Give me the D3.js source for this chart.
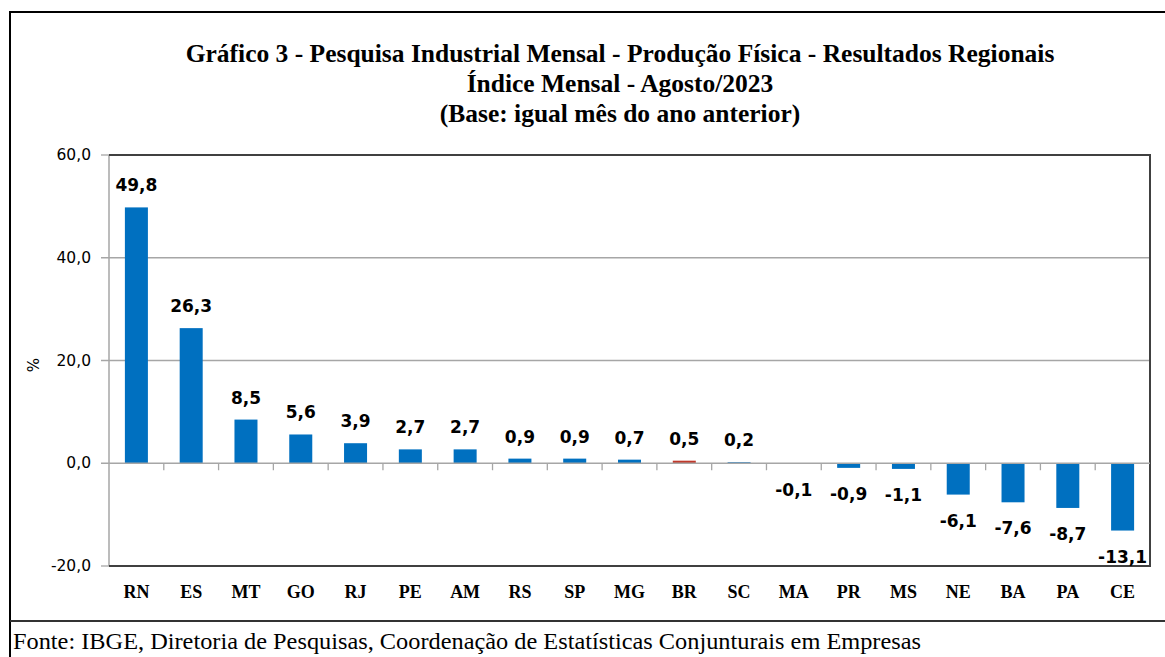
<!DOCTYPE html>
<html>
<head>
<meta charset="utf-8">
<script src="https://cdn.jsdelivr.net/npm/d3@7/dist/d3.min.js"></script>
<style>
  html, body { margin: 0; padding: 0; background: #fff; }
  svg { display: block; }
</style>
</head>
<body>
<svg id="chart"></svg>
<script>
// data
const regions = ['RN', 'ES', 'MT', 'GO', 'RJ', 'PE', 'AM', 'RS', 'SP', 'MG', 'BR', 'SC', 'MA', 'PR', 'MS', 'NE', 'BA', 'PA', 'CE'];
const values = [49.8, 26.3, 8.5, 5.6, 3.9, 2.7, 2.7, 0.9, 0.9, 0.7, 0.5, 0.2, -0.1, -0.9, -1.1, -6.1, -7.6, -8.7, -13.1];
const yTicks = [-20, 0, 20, 40, 60];
const titleLines = [
  'Gráfico 3 - Pesquisa Industrial Mensal - Produção Física - Resultados Regionais',
  'Índice Mensal - Agosto/2023',
  '(Base: igual mês do ano anterior)'
];
const source = 'Fonte: IBGE, Diretoria de Pesquisas, Coordenação de Estatísticas Conjunturais em Empresas';

const W = 1165, H = 657;
const plot = { left: 109, right: 1150, top: 155, bottom: 566 };
const serif = '"Liberation Serif", "DejaVu Serif", serif';
const sans = '"DejaVu Sans", Verdana, sans-serif';

const svg = d3.select('#chart').attr('width', W).attr('height', H);

const fmt = (v) => d3.format('.1f')(v).replace('.', ',').replace('−', '-');

// outer frame
svg.append('path')
  .attr('d', `M1170,12 H10 V${H + 5}`)
  .attr('fill', 'none')
  .attr('stroke', '#000')
  .attr('stroke-width', 2);
svg.append('line')
  .attr('x1', 10).attr('x2', W + 5)
  .attr('y1', 621).attr('y2', 621)
  .attr('stroke', '#333')
  .attr('stroke-width', 2);

// title
const title = svg.append('text')
  .attr('text-anchor', 'middle')
  .attr('font-family', serif)
  .attr('font-weight', 'bold')
  .attr('font-size', 25.5)
  .attr('fill', '#000');
titleLines.forEach((t, i) => {
  title.append('tspan').attr('x', 620).attr('y', 62 + i * 30).text(t);
});

const x = d3.scaleBand().domain(regions).range([plot.left, plot.right]).padding(0);
const y = d3.scaleLinear().domain([-20, 60]).range([plot.bottom, plot.top]);
const barW = x.bandwidth() * 0.42;

// gridlines + y ticks
const yAxis = svg.append('g').attr('class', 'y-axis');
yAxis.selectAll('line.grid')
  .data(yTicks.filter((d) => d !== -20 && d !== 60 && d !== 0))
  .enter()
  .append('line')
  .attr('class', 'grid')
  .attr('x1', plot.left - 8)
  .attr('x2', plot.right)
  .attr('y1', (d) => y(d))
  .attr('y2', (d) => y(d))
  .attr('stroke', '#a6a6a6')
  .attr('stroke-width', 1.3);

yAxis.selectAll('text')
  .data(yTicks)
  .enter()
  .append('text')
  .attr('x', plot.left - 18)
  .attr('y', (d) => y(d) + 5)
  .attr('text-anchor', 'end')
  .attr('font-family', sans)
  .attr('font-size', 15.5)
  .attr('fill', '#000')
  .text(fmt);

// short tick marks for the frame lines
[60, -20].forEach((d) => {
  svg.append('line')
    .attr('x1', plot.left - 8).attr('x2', plot.left)
    .attr('y1', y(d)).attr('y2', y(d))
    .attr('stroke', '#a6a6a6').attr('stroke-width', 1.3);
});

// left axis
svg.append('line')
  .attr('x1', plot.left).attr('x2', plot.left)
  .attr('y1', plot.top).attr('y2', plot.bottom)
  .attr('stroke', '#a6a6a6').attr('stroke-width', 1.5);

// top, right, bottom frame
svg.append('path')
  .attr('d', `M${plot.left},${plot.top} H${plot.right} V${plot.bottom} H${plot.left}`)
  .attr('fill', 'none')
  .attr('stroke', '#404040')
  .attr('stroke-width', 2);

// y label
svg.append('text')
  .attr('transform', 'translate(39,365) rotate(-90)')
  .attr('text-anchor', 'middle')
  .attr('font-family', sans)
  .attr('font-size', 15)
  .text('%');

// bars
svg.append('g').attr('class', 'bars')
  .selectAll('rect')
  .data(regions)
  .enter()
  .append('rect')
  .attr('x', (d) => x(d) + (x.bandwidth() - barW) / 2)
  .attr('width', barW)
  .attr('y', (d, i) => y(Math.max(0, values[i])))
  .attr('height', (d, i) => Math.abs(y(values[i]) - y(0)))
  .attr('fill', (d) => (d === 'BR' ? '#c0392b' : '#0070c0'));

// zero line with category ticks
const y0 = y(0);
svg.append('line')
  .attr('x1', plot.left - 8).attr('x2', plot.right)
  .attr('y1', y0).attr('y2', y0)
  .attr('stroke', '#a6a6a6').attr('stroke-width', 1.5);
svg.append('g').attr('class', 'cat-ticks')
  .selectAll('line')
  .data(regions.slice(1))
  .enter()
  .append('line')
  .attr('x1', (d) => x(d))
  .attr('x2', (d) => x(d))
  .attr('y1', y0)
  .attr('y2', y0 + 7)
  .attr('stroke', '#a6a6a6')
  .attr('stroke-width', 1.3);

// value labels
svg.append('g').attr('class', 'labels')
  .selectAll('text')
  .data(regions)
  .enter()
  .append('text')
  .attr('x', (d) => x(d) + x.bandwidth() / 2)
  .attr('y', (d, i) => (values[i] >= 0 ? y(values[i]) - 16 : y(values[i]) + 32))
  .attr('text-anchor', 'middle')
  .attr('font-family', sans)
  .attr('font-weight', 'bold')
  .attr('font-size', 17)
  .attr('fill', '#000')
  .text((d, i) => fmt(values[i]));

// category labels
svg.append('g').attr('class', 'x-axis')
  .selectAll('text')
  .data(regions)
  .enter()
  .append('text')
  .attr('x', (d) => x(d) + x.bandwidth() / 2)
  .attr('y', 598)
  .attr('text-anchor', 'middle')
  .attr('font-family', serif)
  .attr('font-weight', 'bold')
  .attr('font-size', 18)
  .attr('fill', '#000')
  .text((d) => d);

// source
svg.append('text')
  .attr('x', 13)
  .attr('y', 649)
  .attr('font-family', serif)
  .attr('font-size', 22.5)
  .attr('textLength', 908)
  .attr('lengthAdjust', 'spacingAndGlyphs')
  .attr('fill', '#000')
  .text(source);
</script>
</body>
</html>
